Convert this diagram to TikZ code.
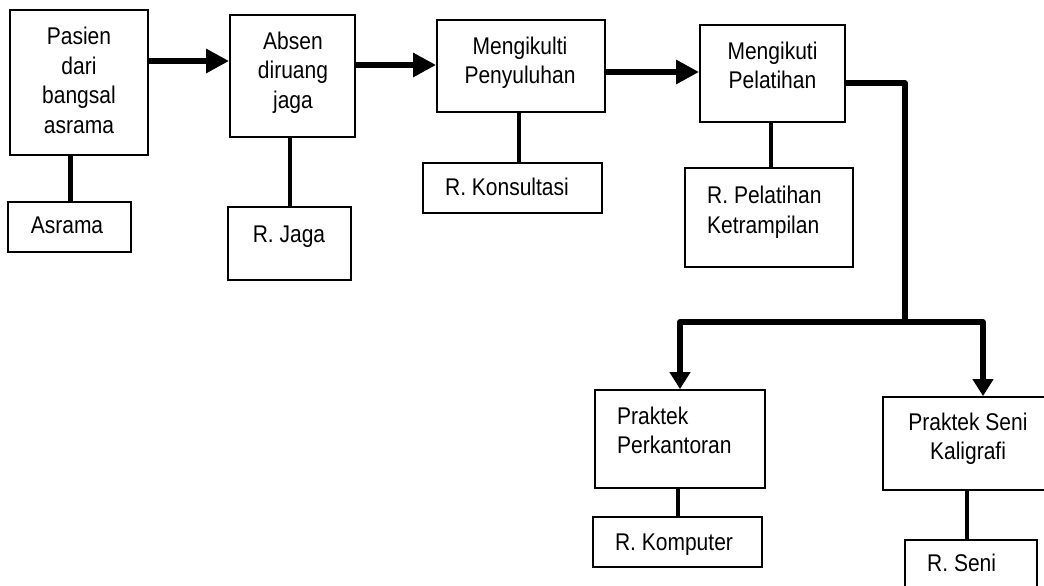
\documentclass[tikz,border=0pt]{standalone}
\usepackage{fontspec}
\usepackage{graphicx}
\setmainfont{Liberation Sans}
\usetikzlibrary{arrows.meta}
% tall, slightly narrow lettering: a tabular stretched vertically
\newcommand\tallcell[2][c]{\scalebox{1}[1.15]{\begin{tabular}{@{}#1@{}}#2\end{tabular}}}
\begin{document}
\begin{tikzpicture}[x=1pt,y=-1pt,
  box/.style={draw, line width=1.8pt, minimum width=#1, inner sep=0pt},
  lbl/.style={inner sep=0pt, font=\fontsize{21}{26}\selectfont},
  link/.style={line width=4.5pt},
  flow/.style={line width=6.5pt, -{Triangle[length=23pt,width=23pt]}},
  branch/.style={line width=5.5pt, line join=round, -{Triangle[length=17pt,width=20pt]}}
]
\useasboundingbox (0,0) rectangle (1044,586);

% main sequence of activities
\node[box=138pt, minimum height=145pt] (pasien) at (79,82.5) {};
\node[lbl] (pasien-t) at (79,83) {\tallcell{Pasien\\dari\\bangsal\\asrama}};
\node[box=125pt, minimum height=122pt] (absen) at (292.5,76) {};
\node[lbl] (absen-t) at (293,73) {\tallcell{Absen\\diruang\\jaga}};
\node[box=168pt, minimum height=92pt] (penyuluhan) at (521,66) {};
\node[lbl] (penyuluhan-t) at (520,63) {\tallcell{Mengikulti\\Penyuluhan}};
\node[box=145pt, minimum height=97pt] (pelatihan) at (772.5,73.5) {};
\node[lbl] (pelatihan-t) at (772.5,68) {\tallcell{Mengikuti\\Pelatihan}};

% rooms where each activity takes place
\node[box=123pt, minimum height=50pt] (asrama) at (69.5,227) {};
\node[lbl] (asrama-t) at (67,228) {\tallcell{Asrama}};
\node[box=123pt, minimum height=73pt] (rjaga) at (289.5,243.5) {};
\node[lbl] (rjaga-t) at (289,237) {\tallcell{R. Jaga}};
\node[box=179pt, minimum height=50pt] (rkonsultasi) at (512.5,188) {};
\node[lbl] (rkonsultasi-t) at (507,190) {\tallcell{R. Konsultasi}};
\node[box=168pt, minimum height=99pt] (rpelatihan) at (769,217.5) {};
\node[lbl, anchor=west] (rpelatihan-t) at (707,212.5) {\tallcell[l]{R. Pelatihan\\Ketrampilan}};

% practical sessions
\node[box=170pt, minimum height=98pt] (perkantoran) at (680,439) {};
\node[lbl, anchor=west] (perkantoran-t) at (617,433) {\tallcell[l]{Praktek\\Perkantoran}};
\node[box=169pt, minimum height=93pt] (kaligrafi) at (967.5,443.5) {};
\node[lbl] (kaligrafi-t) at (968,439) {\tallcell{Praktek Seni\\Kaligrafi}};
\node[box=169pt, minimum height=50pt] (rkomputer) at (677.5,542) {};
\node[lbl] (rkomputer-t) at (674,545) {\tallcell{R. Komputer}};
\node[box=132pt, minimum height=60pt] (rseni) at (971,570) {};
\node[lbl, anchor=west] (rseni-t) at (927,566) {\tallcell[l]{R. Seni}};

% flow arrows
\draw[flow] (pasien.east |- 0,61) -- (absen.west |- 0,61);
\draw[flow] (absen.east |- 0,65) -- (penyuluhan.west |- 0,65);
\draw[flow] (penyuluhan.east |- 0,72) -- (pelatihan.west |- 0,72);

% branch to the practical sessions
\coordinate (elbowA) at (905,83);
\coordinate (elbowB) at (905,322);
\coordinate (elbowC) at (983,322);
\draw[line width=5.5pt, line join=round] (pelatihan.east |- elbowA) -- (elbowA) -- (elbowB);
\draw[branch] (elbowB) -- (perkantoran.north |- elbowB) -- (perkantoran.north);
\draw[branch] (elbowB) -- (elbowC) -- (elbowC |- kaligrafi.north);

% links between activities and rooms
\draw[link] (pasien.south -| 70.5,0) -- (asrama.north -| 70.5,0);
\draw[link] (absen.south -| 290,0) -- (rjaga.north -| 290,0);
\draw[link] (penyuluhan.south -| 519,0) -- (rkonsultasi.north -| 519,0);
\draw[link] (pelatihan.south -| 771,0) -- (rpelatihan.north -| 771,0);
\draw[link] (perkantoran.south -| 678,0) -- (rkomputer.north -| 678,0);
\draw[link] (kaligrafi.south -| 967,0) -- (rseni.north -| 967,0);
\end{tikzpicture}
\end{document}
